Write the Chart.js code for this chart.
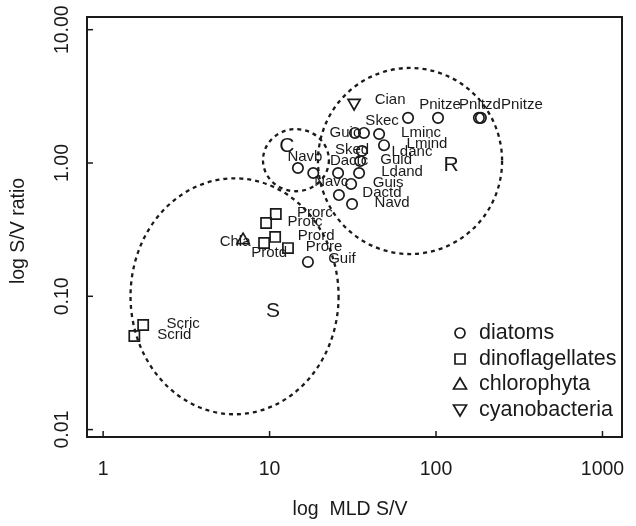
<!DOCTYPE html>
<html><head><meta charset="utf-8">
<script src="https://cdn.jsdelivr.net/npm/chart.js@4.4.1/dist/chart.umd.min.js"></script>
<style>html,body{margin:0;padding:0;background:#fff;}#wrap{width:636px;height:526px;position:relative;}</style>
</head><body><div id="wrap"><canvas id="c" width="636" height="526"></canvas></div>
<script>
// ---- data ----
const diatomNames = ['Navb','Navc','Dactc','Ldand','Guis','Dactd','Navd','Guid','Sked','Guic','Ldanc','Lminc','Lmind','Skec','Pnitze','Pnitzd','Pnitze','Guif'];
const diatomX = [14.8,18.3,25.8,34.5,30.9,26.1,31.3,35.0,35.9,32.6,36.9,45.5,48.7,67.9,102.8,181,186,17.0];
const diatomY = [0.917,0.841,0.841,0.841,0.696,0.575,0.492,1.035,1.23,1.68,1.68,1.65,1.36,2.18,2.18,2.18,2.18,0.181];
const dinoNames = ['Prorc','Protc','Prord','Protd','Prore','Scric','Scrid'];
const dinoX = [10.9,9.53,10.8,9.27,12.9,1.74,1.54];
const dinoY = [0.414,0.355,0.279,0.251,0.230,0.0609,0.0504];
const chloroNames = ['Chla'];
const chloroX = [6.93];
const chloroY = [0.264];
const cyanoNames = ['Cian'];
const cyanoX = [32.2];
const cyanoY = [2.82];
const groupNames = ['diatoms','dinoflagellates','chlorophyta','cyanobacteria'];
const xTicks = [1,10,100,1000];
const xTickLabels = ['1','10','100','1000'];
const yTicks = [0.01,0.1,1,10];
const yTickLabels = ['0.01','0.10','1.00','10.00'];
const regionNames = ['C','R','S'];
const regionCx = [14.4,69.8,6.16];
const regionCy = [1.05,1.035,0.100];
const regionRxDec = [0.198,0.553,0.625];
const regionRyDec = [0.233,0.698,0.885];
const regionLabelX = [12.7,123,10.5];
const regionLabelY = [1.34,0.966,0.0776];

// ---- layout (pixel offsets of point labels) ----
const diatomLabelOff = [[7,-11],[18,9],[11,-12],[43,-1],[37,-1],[43,-2],[40,-1],[36,-1],[-10,-1],[-10,0],[48,19],[42,-1],[43,-1],[-26,3],[2,-13],[1,-13],[41,-13],[34,-3]];
const dinoLabelOff = [[39,-1],[39,-1],[41,-1],[5,10],[36,-1],[40,-1],[40,-1]];
const chloroLabelOff = [[-8,2]];
const cyanoLabelOff = [[36,-3]];

const FONT = '"Liberation Sans", Arial, Helvetica, sans-serif';
const INK = '#1a1a1a';
const pts = (xs, ys) => xs.map((x, i) => ({x, y: ys[i]}));

const groups = [
  {names: diatomNames, off: diatomLabelOff},
  {names: dinoNames, off: dinoLabelOff},
  {names: chloroNames, off: chloroLabelOff},
  {names: cyanoNames, off: cyanoLabelOff}
];

const base = {borderColor: INK, backgroundColor: 'rgba(0,0,0,0)', pointBorderWidth: 1.7, showLine: false};

const decor = {
  id: 'decor',
  beforeDatasetsDraw(chart) {
    const {ctx, chartArea: a, scales: {x, y}} = chart;
    ctx.save();
    // dashed regions
    ctx.strokeStyle = INK; ctx.lineWidth = 2.3; ctx.setLineDash([4, 4]);
    regionNames.forEach((n, i) => {
      const cx = x.getPixelForValue(regionCx[i]);
      const cy = y.getPixelForValue(regionCy[i]);
      const rx = x.getPixelForValue(regionCx[i] * Math.pow(10, regionRxDec[i])) - cx;
      const ry = cy - y.getPixelForValue(regionCy[i] * Math.pow(10, regionRyDec[i]));
      ctx.beginPath(); ctx.ellipse(cx, cy, rx, ry, 0, 0, Math.PI * 2); ctx.stroke();
    });
    ctx.setLineDash([]);
    // region letters
    ctx.fillStyle = INK; ctx.font = '21px ' + FONT; ctx.textAlign = 'center'; ctx.textBaseline = 'middle';
    regionNames.forEach((n, i) => {
      ctx.fillText(n, x.getPixelForValue(regionLabelX[i]), y.getPixelForValue(regionLabelY[i]));
    });
    // point labels
    ctx.font = '15px ' + FONT;
    chart.data.datasets.forEach((ds, di) => {
      const g = groups[di];
      ds.data.forEach((p, i) => {
        const px = x.getPixelForValue(p.x) + g.off[i][0];
        const py = y.getPixelForValue(p.y) + g.off[i][1];
        ctx.fillText(g.names[i], px, py);
      });
    });
    ctx.restore();
  },
  afterDraw(chart) {
    const {ctx, chartArea: a, scales: {x, y}} = chart;
    ctx.save();
    ctx.strokeStyle = INK; ctx.lineWidth = 2;
    ctx.strokeRect(a.left, a.top, a.right - a.left, a.bottom - a.top);
    ctx.lineWidth = 1.5;
    ctx.fillStyle = INK;
    ctx.font = '19.5px ' + FONT;
    ctx.textAlign = 'center'; ctx.textBaseline = 'middle';
    xTicks.forEach((v, i) => {
      const px = x.getPixelForValue(v);
      ctx.beginPath(); ctx.moveTo(px, a.bottom); ctx.lineTo(px, a.bottom - 6); ctx.stroke();
      ctx.fillText(xTickLabels[i], px, 470);
    });
    yTicks.forEach((v, i) => {
      const py = y.getPixelForValue(v);
      ctx.beginPath(); ctx.moveTo(a.left, py); ctx.lineTo(a.left + 6, py); ctx.stroke();
      ctx.save(); ctx.translate(63, py); ctx.rotate(-Math.PI / 2);
      ctx.fillText(yTickLabels[i], 0, 0); ctx.restore();
    });
    // axis titles
    ctx.font = '19.5px ' + FONT;
    ctx.fillText('log  MLD S/V', 350, 510);
    ctx.save(); ctx.translate(19, 231); ctx.rotate(-Math.PI / 2);
    ctx.fillText('log S/V ratio', 0, 0); ctx.restore();
    // legend
    const lx = 460, ly = [333, 359, 384, 410];
    ctx.lineWidth = 1.7;
    ctx.textAlign = 'left';
    ctx.font = '21.5px ' + FONT;
    groupNames.forEach((n, i) => {
      const yy = ly[i];
      ctx.beginPath();
      if (i === 0) ctx.arc(lx, yy, 5, 0, Math.PI * 2);
      else if (i === 1) ctx.rect(lx - 5, yy - 5, 10, 10);
      else if (i === 2) { ctx.moveTo(lx, yy - 6); ctx.lineTo(lx + 6.5, yy + 5); ctx.lineTo(lx - 6.5, yy + 5); ctx.closePath(); }
      else { ctx.moveTo(lx, yy + 6); ctx.lineTo(lx + 6.5, yy - 5); ctx.lineTo(lx - 6.5, yy - 5); ctx.closePath(); }
      ctx.stroke();
      ctx.fillText(n, 479, yy);
    });
    ctx.restore();
  }
};

new Chart(document.getElementById('c'), {
  type: 'scatter',
  data: {
    datasets: [
      Object.assign({label: groupNames[0], data: pts(diatomX, diatomY), pointStyle: 'circle', pointRadius: 5.2}, base),
      Object.assign({label: groupNames[1], data: pts(dinoX, dinoY), pointStyle: 'rect', pointRadius: 7.2}, base),
      Object.assign({label: groupNames[2], data: pts(chloroX, chloroY), pointStyle: 'triangle', pointRadius: 7}, base),
      Object.assign({label: groupNames[3], data: pts(cyanoX, cyanoY), pointStyle: 'triangle', pointRadius: 7, rotation: 180}, base)
    ]
  },
  options: {
    responsive: false, animation: false, events: [],
    layout: {padding: {left: 87, top: 17, right: 14, bottom: 89}},
    plugins: {legend: {display: false}, tooltip: {enabled: false}},
    scales: {
      x: {type: 'logarithmic', min: 0.8, max: 1310, display: false},
      y: {type: 'logarithmic', min: 0.0088, max: 12.45, display: false}
    }
  },
  plugins: [decor]
});
</script></body></html>
